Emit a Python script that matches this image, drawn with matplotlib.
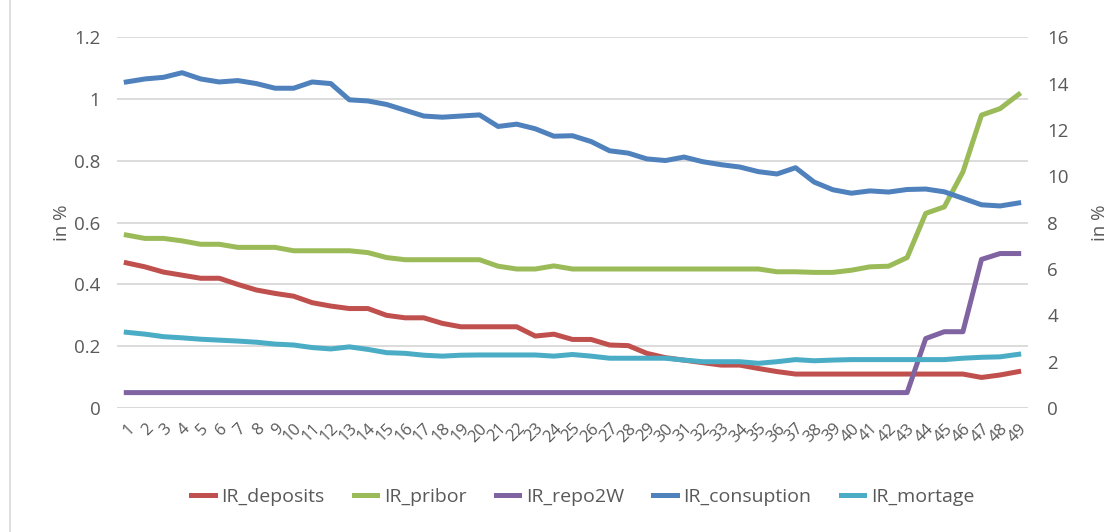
import matplotlib
matplotlib.use("Agg")
import matplotlib.pyplot as plt
from matplotlib.patches import Rectangle

plt.rcParams["font.family"] = ["Open Sans", "DejaVu Sans"]

# Osa x: poradi obdobi 1..49
obdobi = list(range(1, 50))

# Leva osa (v %)
ir_deposits = [0.47, 0.457, 0.44, 0.43, 0.42, 0.42, 0.40, 0.382, 0.371, 0.362,
               0.341, 0.33, 0.322, 0.322, 0.30, 0.292, 0.292, 0.274, 0.263, 0.263,
               0.263, 0.263, 0.233, 0.239, 0.222, 0.222, 0.204, 0.202, 0.177, 0.163,
               0.155, 0.147, 0.139, 0.139, 0.128, 0.118, 0.11, 0.11, 0.11, 0.11,
               0.11, 0.11, 0.11, 0.11, 0.11, 0.11, 0.099, 0.107, 0.118]
ir_pribor = [0.56, 0.549, 0.549, 0.541, 0.53, 0.53, 0.52, 0.52, 0.52, 0.509,
             0.509, 0.509, 0.509, 0.503, 0.487, 0.48, 0.48, 0.48, 0.48, 0.48,
             0.459, 0.45, 0.45, 0.46, 0.45, 0.45, 0.45, 0.45, 0.45, 0.45,
             0.45, 0.45, 0.45, 0.45, 0.45, 0.441, 0.441, 0.439, 0.439, 0.446,
             0.457, 0.459, 0.487, 0.63, 0.651, 0.764, 0.948, 0.969, 1.015]
ir_repo2w = [0.05] * 43 + [0.225, 0.247, 0.247, 0.481, 0.50, 0.50]

# Prava osa (v %)
ir_consuption = [14.07, 14.2, 14.27, 14.47, 14.2, 14.07, 14.13, 14.0, 13.8, 13.8,
                 14.07, 14.0, 13.3, 13.25, 13.1, 12.85, 12.6, 12.55, 12.6, 12.65,
                 12.15, 12.25, 12.05, 11.73, 11.75, 11.5, 11.1, 11.0, 10.75, 10.68,
                 10.83, 10.63, 10.5, 10.4, 10.2, 10.1, 10.37, 9.75, 9.42, 9.27,
                 9.37, 9.32, 9.43, 9.45, 9.33, 9.05, 8.77, 8.72, 8.85]
ir_mortage = [3.27, 3.19, 3.08, 3.03, 2.97, 2.93, 2.89, 2.84, 2.76, 2.72,
              2.61, 2.55, 2.64, 2.53, 2.39, 2.36, 2.28, 2.24, 2.28, 2.29,
              2.29, 2.29, 2.29, 2.24, 2.31, 2.24, 2.15, 2.15, 2.15, 2.15,
              2.07, 2.0, 2.0, 2.0, 1.93, 2.0, 2.09, 2.04, 2.07, 2.09,
              2.09, 2.09, 2.09, 2.09, 2.09, 2.15, 2.19, 2.21, 2.32]

ticks_levy = [0, 0.2, 0.4, 0.6, 0.8, 1.0, 1.2]
popisky_levy = ["0", "0.2", "0.4", "0.6", "0.8", "1", "1.2"]
ticks_pravy = [0, 2, 4, 6, 8, 10, 12, 14, 16]

BARVY = {
    "IR_deposits": "#C0504D",
    "IR_pribor": "#9BBB59",
    "IR_repo2W": "#8064A2",
    "IR_consuption": "#4F81BD",
    "IR_mortage": "#4BACC6",
}
SEDA = "#595959"

fig = plt.figure(figsize=(11.1, 5.32), dpi=100)
ax = fig.add_axes([0.1054, 0.233, 0.8207, 0.697])
ax2 = ax.twinx()

lw = 3.6
h1, = ax.plot(obdobi, ir_deposits, color=BARVY["IR_deposits"], lw=lw, label="IR_deposits")
h2, = ax.plot(obdobi, ir_pribor, color=BARVY["IR_pribor"], lw=lw, label="IR_pribor")
h3, = ax.plot(obdobi, ir_repo2w, color=BARVY["IR_repo2W"], lw=lw, label="IR_repo2W")
h4, = ax2.plot(obdobi, ir_consuption, color=BARVY["IR_consuption"], lw=lw, label="IR_consuption")
h5, = ax2.plot(obdobi, ir_mortage, color=BARVY["IR_mortage"], lw=lw, label="IR_mortage")

ax.set_xlim(0.5, 49.5)
ax.set_ylim(0, 1.2)
ax2.set_ylim(0, 16)
ax.set_yticks(ticks_levy)
ax.set_yticklabels(popisky_levy)
ax2.set_yticks(ticks_pravy)

# mrizka podle leve osy
ax.grid(axis="y", color="#d9d9d9", lw=1.3)
ax.set_axisbelow(True)
for a in (ax, ax2):
    for s in a.spines.values():
        s.set_visible(False)
    a.tick_params(axis="y", length=0, colors=SEDA, labelsize=13.5)
ax.tick_params(axis="y", pad=12)
ax2.tick_params(axis="y", pad=14)
ax.axhline(0, color="#d9d9d9", lw=1.3, zorder=0)

ax.set_xticks(obdobi)
ax.set_xticklabels([str(i) for i in obdobi], rotation=45, ha="right",
                   rotation_mode="anchor", fontsize=12)
ax.tick_params(axis="x", length=0, colors=SEDA, pad=9)

ax.set_ylabel("in %", color=SEDA, fontsize=13.5, labelpad=2)
ax2.set_ylabel("in %", color=SEDA, fontsize=13.5, labelpad=16)

fig.legend(handles=[h1, h2, h3, h4, h5], loc="center", bbox_to_anchor=(0.525, 0.066),
           ncol=5, frameon=False, fontsize=14, handlelength=1.2,
           handletextpad=0.35, columnspacing=1.5, labelcolor=SEDA)

# ramecek grafu
fig.patches.append(Rectangle((10 / 1110, -0.01), 1.02, 1.02, transform=fig.transFigure,
                             fill=False, edgecolor="#d9d9d9", lw=1.2))

fig.savefig("out.png", dpi=100)
